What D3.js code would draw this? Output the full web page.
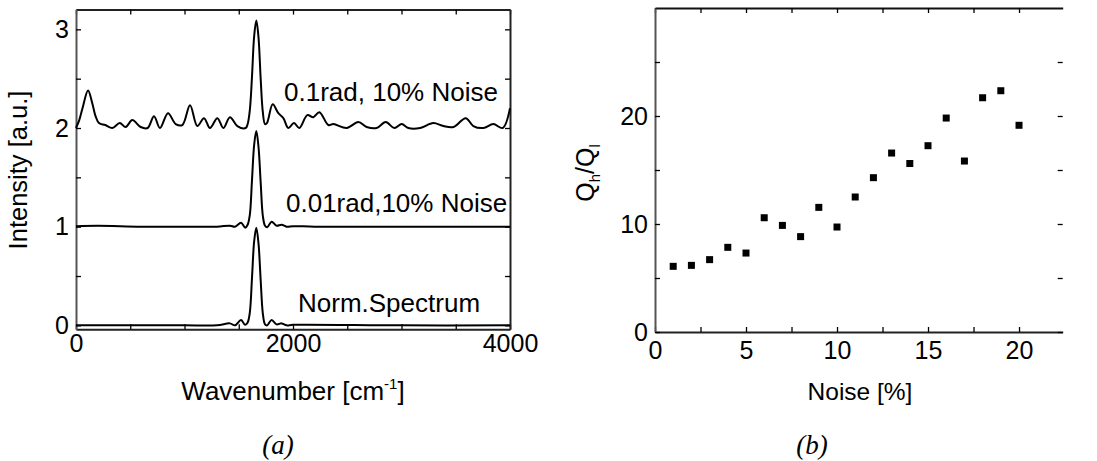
<!DOCTYPE html>
<html>
<head>
<meta charset="utf-8">
<script src="https://cdn.jsdelivr.net/npm/d3@7/dist/d3.min.js"></script>
<style>
  html, body { margin: 0; padding: 0; background: #fff; }
  svg { display: block; }
  text { font-family: "Liberation Sans", Arial, sans-serif; fill: #000; }
  text.serif { font-family: "Liberation Serif", "Times New Roman", serif; font-style: italic; }
</style>
</head>
<body>
<svg id="chart" width="1097" height="461"></svg>
<script>
// ---------------- Panel (a) data: spectra ----------------
const curveLabels = ["0.1rad, 10% Noise", "0.01rad,10% Noise", "Norm.Spectrum"];
const curveOffsets = [2, 1, 0];

const wnTop = [0, 30, 60, 111, 150, 180, 212, 270, 335, 403, 458, 519, 596, 660, 719, 774, 848, 919, 980, 1051, 1118, 1180, 1235, 1303, 1358, 1419, 1487, 1564, 1582, 1602, 1622, 1642, 1662, 1682, 1702, 1722, 1742, 1760, 1813, 1865, 1911, 1957, 2009, 2058, 2132, 2187, 2243, 2326, 2372, 2495, 2602, 2679, 2771, 2854, 2934, 3002, 3063, 3171, 3293, 3386, 3478, 3592, 3662, 3754, 3846, 3933, 4000];
const intTop = [0.0, 0.08, 0.20, 0.38, 0.25, 0.12, 0.05, 0.03, 0.0, 0.05, 0.01, 0.08, 0.01, 0.0, 0.12, 0.0, 0.15, 0.04, 0.03, 0.23, 0.02, 0.10, 0.0, 0.10, 0.0, 0.11, 0.02, 0.0, 0.04, 0.18, 0.52, 0.93, 1.09, 0.92, 0.50, 0.16, 0.04, 0.05, 0.24, 0.15, 0.10, 0.0, 0.05, 0.0, 0.13, 0.11, 0.16, 0.03, 0.04, 0.0, 0.06, 0.01, 0.0, 0.06, 0.0, 0.04, 0.0, 0.0, 0.05, 0.02, 0.01, 0.10, 0.02, 0.0, 0.04, 0.0, 0.20];

const wnMid = [0, 200, 600, 1000, 1300, 1419, 1465, 1521, 1560, 1582, 1602, 1622, 1642, 1662, 1682, 1702, 1722, 1742, 1762, 1803, 1849, 1895, 1941, 2000, 2200, 3000, 4000];
const intMid = [0.005, 0.01, 0.0, 0.0, 0.0, 0.01, 0.0, 0.04, -0.01, 0.02, 0.12, 0.47, 0.83, 0.97, 0.81, 0.45, 0.11, 0.01, -0.005, 0.05, 0.01, 0.02, 0.0, 0.005, 0.0, 0.0, 0.0];

const wnBot = [0, 600, 1000, 1300, 1419, 1465, 1521, 1558, 1582, 1602, 1622, 1642, 1662, 1682, 1702, 1722, 1742, 1762, 1803, 1849, 1895, 1941, 2000, 3000, 4000];
const intBot = [0.0, 0.0, 0.0, 0.0, 0.02, 0.0, 0.055, 0.005, 0.03, 0.13, 0.48, 0.85, 0.99, 0.83, 0.46, 0.12, 0.01, 0.0, 0.055, 0.01, 0.02, 0.0, 0.005, 0.0, 0.0];

const xMajorA = [0, 2000, 4000];
const xMinorA = [500, 1000, 1500, 2500, 3000, 3500];
const yMajorA = [0, 1, 2, 3];
const yMinorA = [0.5, 1.5, 2.5];

// ---------------- Panel (b) data: Qh/Ql vs noise ----------------
const noisePct = [1, 2, 3, 4, 5, 6, 7, 8, 9, 10, 11, 12, 13, 14, 15, 16, 17, 18, 19, 20];
const qRatio = [6.08, 6.17, 6.7, 7.84, 7.31, 10.58, 9.87, 8.83, 11.54, 9.72, 12.5, 14.29, 16.57, 15.6, 17.25, 19.81, 15.83, 21.69, 22.34, 19.14];
const xMajorB = [0, 5, 10, 15, 20];
const xMinorB = [2.5, 7.5, 12.5, 17.5];
const yMajorB = [0, 10, 20];
const yMinorB = [5, 15, 25];

// ---------------- Drawing ----------------
const svg = d3.select("#chart");
const FS = 25;

function styleAxis(g, domainColor) {
  g.selectAll(".domain").attr("stroke", domainColor).attr("stroke-width", 2);
  g.selectAll(".tick line").attr("stroke", "#000").attr("stroke-width", 1.3);
  g.selectAll(".tick text").attr("font-size", FS).attr("fill", "#000");
}
function fmtOnly(majors) { const s = new Set(majors); return d => s.has(d) ? String(d) : ""; }

// ---- Panel (a)
const xA = d3.scaleLinear().domain([0, 4000]).range([76, 510]);
const yA = d3.scaleLinear().domain([-0.04, 3.2]).range([329.3, 9.6]);
const gA = svg.append("g");
const xTicksA = xMajorA.concat(xMinorA).sort((a, b) => a - b);
const yTicksA = yMajorA.concat(yMinorA).sort((a, b) => a - b);

gA.append("g").attr("transform", `translate(0,${yA.range()[0]})`)
  .call(d3.axisBottom(xA).tickValues(xTicksA).tickFormat(fmtOnly(xMajorA)).tickSize(-5).tickSizeOuter(0).tickPadding(5))
  .call(g => styleAxis(g, "#222"));
gA.append("g").attr("transform", `translate(0,${yA.range()[1]})`)
  .call(d3.axisTop(xA).tickValues(xTicksA).tickFormat("").tickSize(-5).tickSizeOuter(0))
  .call(g => styleAxis(g, "#222"));
gA.append("g").attr("transform", `translate(${xA.range()[0]},0)`)
  .call(d3.axisLeft(yA).tickValues(yTicksA).tickFormat(fmtOnly(yMajorA)).tickSize(-5).tickSizeOuter(0).tickPadding(7))
  .call(g => styleAxis(g, "#555"));
gA.append("g").attr("transform", `translate(${xA.range()[1]},0)`)
  .call(d3.axisRight(yA).tickValues(yTicksA).tickFormat("").tickSize(-5).tickSizeOuter(0))
  .call(g => styleAxis(g, "#222"));

const series = [
  { wn: wnTop, v: intTop },
  { wn: wnMid, v: intMid },
  { wn: wnBot, v: intBot }
];
const lineA = d3.line().curve(d3.curveCatmullRom.alpha(0.5));
series.forEach((s, i) => {
  const pts = s.wn.map((w, j) => [xA(w), yA(s.v[j] + curveOffsets[i])]);
  gA.append("path").attr("d", lineA(pts)).attr("fill", "none")
    .attr("stroke", "#000").attr("stroke-width", 2).attr("stroke-linejoin", "round");
});

// annotations
const annot = [
  { x: 284, y: 101, fs: 26 },
  { x: 286, y: 212, fs: 26 },
  { x: 298, y: 312, fs: 26 }
];
curveLabels.forEach((t, i) => {
  gA.append("text").attr("x", annot[i].x).attr("y", annot[i].y)
    .attr("font-size", annot[i].fs).text(t);
});

// axis titles (a)
gA.append("text").attr("transform", "translate(27,170) rotate(-90)")
  .attr("text-anchor", "middle").attr("font-size", 25.5).text("Intensity [a.u.]");
const tx = gA.append("text").attr("x", 293).attr("y", 400).attr("text-anchor", "middle").attr("font-size", 26);
tx.append("tspan").text("Wavenumber [cm");
tx.append("tspan").attr("font-size", 15).attr("dy", -11).text("-1");
tx.append("tspan").attr("dy", 11).text("]");
gA.append("text").attr("class", "serif").attr("x", 278).attr("y", 454).attr("text-anchor", "middle")
  .attr("font-size", 27).text("(a)");

// ---- Panel (b)
const xB = d3.scaleLinear().domain([0, 22.4]).range([655, 1062.7]);
const yB = d3.scaleLinear().domain([0, 30]).range([332, 8]);
const gB = svg.append("g");
const xTicksB = xMajorB.concat(xMinorB).sort((a, b) => a - b);
const yTicksB = yMajorB.concat(yMinorB).sort((a, b) => a - b);

gB.append("g").attr("transform", `translate(0,${yB.range()[0]})`)
  .call(d3.axisBottom(xB).tickValues(xTicksB).tickFormat(fmtOnly(xMajorB)).tickSize(-5).tickSizeOuter(0).tickPadding(9))
  .call(g => styleAxis(g, "#222"));
gB.append("g").attr("transform", `translate(0,${yB.range()[1]})`)
  .call(d3.axisTop(xB).tickValues(xTicksB).tickFormat("").tickSize(-5).tickSizeOuter(0))
  .call(g => styleAxis(g, "#111"));
gB.append("g").attr("transform", `translate(${xB.range()[0]},0)`)
  .call(d3.axisLeft(yB).tickValues(yTicksB).tickFormat(fmtOnly(yMajorB)).tickSize(-5).tickSizeOuter(0).tickPadding(7))
  .call(g => styleAxis(g, "#555"));
gB.append("g").attr("transform", `translate(${xB.range()[1]},0)`)
  .call(d3.axisRight(yB).tickValues(yTicksB).tickFormat("").tickSize(-5).tickSizeOuter(0))
  .call(g => { styleAxis(g, "#222"); g.select(".domain").remove(); });

const msz = 7;
gB.append("g").selectAll("rect").data(noisePct).join("rect")
  .attr("x", (d) => xB(d) - msz / 2)
  .attr("y", (d, i) => yB(qRatio[i]) - msz / 2)
  .attr("width", msz).attr("height", msz).attr("fill", "#000");

// axis titles (b)
const ty = gB.append("text").attr("transform", "translate(594,173) rotate(-90)")
  .attr("text-anchor", "middle").attr("font-size", 25);
ty.append("tspan").text("Q");
ty.append("tspan").attr("font-size", 15).attr("dy", 6).text("h");
ty.append("tspan").attr("dy", -6).text("/Q");
ty.append("tspan").attr("font-size", 15).attr("dy", 6).text("l");
gB.append("text").attr("x", 860).attr("y", 400).attr("text-anchor", "middle").attr("font-size", 24.5).text("Noise [%]");
gB.append("text").attr("class", "serif").attr("x", 812).attr("y", 454).attr("text-anchor", "middle")
  .attr("font-size", 27).text("(b)");
</script>
</body>
</html>
